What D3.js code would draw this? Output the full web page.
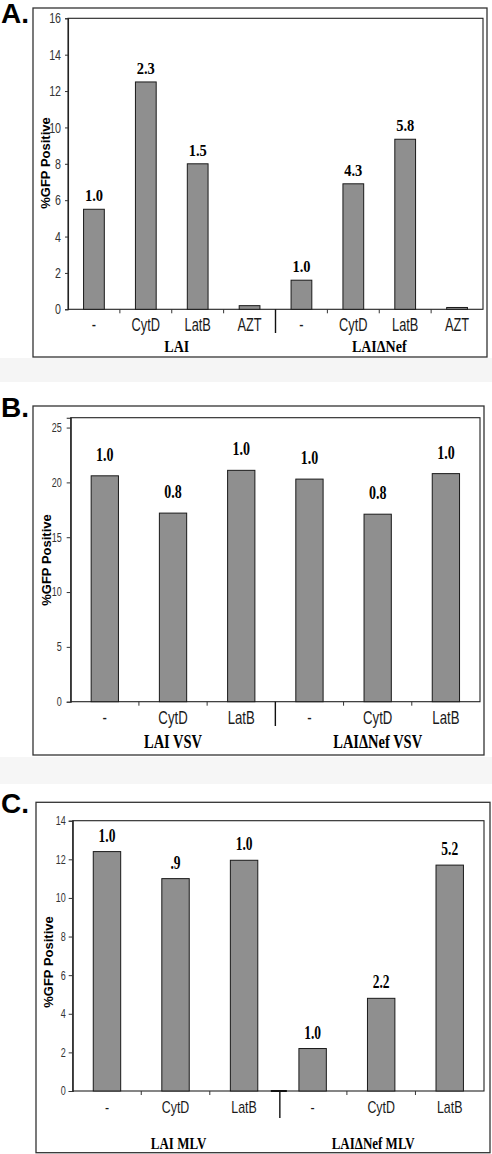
<!DOCTYPE html>
<html><head><meta charset="utf-8">
<script src="https://cdn.jsdelivr.net/npm/d3@7"></script>
<style>body{margin:0;background:#fff}svg{display:block}</style>
</head><body>
<script>
// ---- Data ----
const aCategories = ["-", "CytD", "LatB", "AZT", "-", "CytD", "LatB", "AZT"];
const aValues = [5.5, 12.5, 8.0, 0.2, 1.6, 6.9, 9.35, 0.1];
const aLabels = ["1.0", "2.3", "1.5", "", "1.0", "4.3", "5.8", ""];
const aGroups = ["LAI", "LAIΔNef"];
const aTicks = [0, 2, 4, 6, 8, 10, 12, 14, 16];

const bCategories = ["-", "CytD", "LatB", "-", "CytD", "LatB"];
const bValues = [20.6, 17.2, 21.1, 20.3, 17.1, 20.8];
const bLabels = ["1.0", "0.8", "1.0", "1.0", "0.8", "1.0"];
const bGroups = ["LAI VSV", "LAIΔNef VSV"];
const bTicks = [0, 5, 10, 15, 20, 25];

const cCategories = ["-", "CytD", "LatB", "-", "CytD", "LatB"];
const cValues = [12.4, 11.0, 11.95, 2.2, 4.8, 11.7];
const cLabels = ["1.0", ".9", "1.0", "1.0", "2.2", "5.2"];
const cGroups = ["LAI MLV", "LAIΔNef MLV"];
const cTicks = [0, 2, 4, 6, 8, 10, 12, 14];

const yTitle = "%GFP Positive";

// ---- Layout (styling, not data) ----
const W = 492, H = 1154;
const svg = d3.select("body").append("svg").attr("width", W).attr("height", H);

// faint background strips
svg.append("rect").attr("x", 0).attr("y", 358).attr("width", W).attr("height", 24).attr("fill", "#f5f5f5");
svg.append("rect").attr("x", 0).attr("y", 757).attr("width", W).attr("height", 27).attr("fill", "#f6f6f6");

function stext(g, x, y, txt, opts) {
  const t = g.append("text")
    .attr("transform", `translate(${x},${y}) scale(${opts.sx || 1},${opts.sy || 1})`)
    .attr("text-anchor", opts.anchor || "middle")
    .attr("font-family", opts.family)
    .attr("font-size", opts.size)
    .attr("font-weight", opts.weight || "normal")
    .attr("fill", opts.fill || "#000")
    .text(txt);
  if (opts.dy) t.attr("dy", opts.dy);
  return t;
}

const SERIF = "'Liberation Serif','Times New Roman',serif";
const SANS = "'Liberation Sans',Arial,sans-serif";

function drawPanel(cfg) {
  const g = svg.append("g");
  // panel letter
  stext(g, cfg.letterX, cfg.letterY, cfg.letter, {family: SANS, size: 28, weight: 900, anchor: "start"});
  // outer frame
  g.append("rect").attr("x", cfg.frame[0]).attr("y", cfg.frame[1])
    .attr("width", cfg.frame[2] - cfg.frame[0]).attr("height", cfg.frame[3] - cfg.frame[1])
    .attr("fill", "#fff").attr("stroke", "#333").attr("stroke-width", 1.3);

  const [L, T, R, B] = cfg.plot;
  const n = cfg.categories.length;
  const x = d3.scaleBand().domain(d3.range(n)).range([L, R]).paddingInner(0.6).paddingOuter(0.3);
  const step = x.step();
  const y = d3.scaleLinear().domain([0, cfg.yMax]).range([B, T]);

  // plot box
  g.append("rect").attr("x", L).attr("y", T).attr("width", R - L).attr("height", B - T)
    .attr("fill", "none").attr("stroke", "#222").attr("stroke-width", 1.1);

  // y axis
  const yAxis = d3.axisLeft(y).tickValues(cfg.ticks).tickSize(cfg.tickLen).tickPadding(cfg.tickPad).tickFormat(d3.format("d"));
  const ya = g.append("g").attr("transform", `translate(${L},0)`).call(yAxis);
  ya.select(".domain").attr("stroke", "#222").attr("stroke-width", 1.1);
  ya.selectAll(".tick line").attr("stroke", "#333");
  ya.selectAll(".tick text")
    .attr("x", null)
    .attr("transform", `translate(${-(cfg.tickLen + cfg.tickPad)},0) scale(0.82,1.1)`)
    .attr("font-family", SANS).attr("font-size", cfg.tickFont).attr("fill", "#333");

  // x tick marks at band boundaries
  const bounds = d3.range(1, n).filter(i => i !== cfg.split);
  g.selectAll(".xt").data(bounds).join("line")
    .attr("x1", i => L + i * step).attr("x2", i => L + i * step)
    .attr("y1", B).attr("y2", B + 4).attr("stroke", "#333").attr("stroke-width", 1);
  // group separator
  const sx = L + cfg.split * step + (cfg.sepShift || 0);
  g.append("line").attr("x1", sx).attr("x2", sx).attr("y1", B).attr("y2", cfg.sepBottom)
    .attr("stroke", "#111").attr("stroke-width", 1.4);
  if (cfg.baseMark) {
    g.append("line").attr("x1", sx - 9).attr("x2", sx + 7).attr("y1", B).attr("y2", B)
      .attr("stroke", "#111").attr("stroke-width", 2);
  }

  // bars
  g.selectAll(".bar").data(cfg.values).join("rect")
    .attr("x", (d, i) => x(i)).attr("width", x.bandwidth())
    .attr("y", d => y(d)).attr("height", d => B - y(d))
    .attr("fill", "#8f8f8f").attr("stroke", "#1a1a1a").attr("stroke-width", 1);

  // value labels
  cfg.labels.forEach((lab, i) => {
    if (!lab) return;
    stext(g, x(i) + x.bandwidth() / 2, y(cfg.values[i]) - cfg.labelDy, lab,
      {family: SERIF, size: cfg.valFont, weight: "bold", sy: cfg.serifSy});
  });

  // category labels
  cfg.categories.forEach((c, i) => {
    stext(g, x(i) + x.bandwidth() / 2, cfg.catY, c,
      {family: SANS, size: cfg.catFont, sx: 0.8, sy: 1.12, fill: "#1a1a1a"});
  });

  // group labels
  cfg.groups.forEach((gl, k) => {
    const i0 = k === 0 ? 0 : cfg.split;
    const i1 = k === 0 ? cfg.split : n;
    const cx = L + (i0 + i1) / 2 * step + (cfg.groupShift ? cfg.groupShift[k] : 0);
    stext(g, cx, cfg.groupY, gl, {family: SERIF, size: cfg.groupFont, weight: "bold", sy: cfg.serifSy});
  });

  // y title
  g.append("text")
    .attr("transform", `translate(${cfg.titleX},${cfg.titleY}) rotate(-90)`)
    .attr("text-anchor", "middle").attr("font-family", SANS).attr("font-size", 13)
    .attr("font-weight", "bold").attr("fill", "#000").text(yTitle);
}

drawPanel({
  letter: "A.", letterX: 1, letterY: 23,
  frame: [33, 8, 487, 357], plot: [68, 18.3, 483, 309.3], yMax: 16,
  categories: aCategories, values: aValues, labels: aLabels, groups: aGroups, ticks: aTicks,
  split: 4, tickFont: 13, tickLen: 3, tickPad: 4, catFont: 16, catY: 331, groupY: 352,
  sepBottom: 333, labelDy: 8, valFont: 14.5, groupFont: 14, serifSy: 1.2,
  titleX: 50, titleY: 163, groupShift: [5, 0]
});

drawPanel({
  letter: "B.", letterX: 1, letterY: 417,
  frame: [33, 406, 484, 755], plot: [70.7, 417.7, 480, 701.7], yMax: 25.9,
  categories: bCategories, values: bValues, labels: bLabels, groups: bGroups, ticks: bTicks,
  split: 3, tickFont: 11, tickLen: 4, tickPad: 5, catFont: 16.5, catY: 724, groupY: 748,
  sepBottom: 726, labelDy: 15, valFont: 14, groupFont: 14.5, serifSy: 1.3,
  titleX: 50.5, titleY: 560
});

drawPanel({
  letter: "C.", letterX: 1, letterY: 813,
  frame: [36, 802.3, 490, 1152.7], plot: [72.7, 820.7, 484, 1091], yMax: 14,
  categories: cCategories, values: cValues, labels: cLabels, groups: cGroups, ticks: cTicks,
  split: 3, tickFont: 11, tickLen: 4, tickPad: 3, catFont: 15.5, catY: 1113, groupY: 1149,
  sepBottom: 1118, labelDy: 10, valFont: 13.5, groupFont: 13, serifSy: 1.35,
  titleX: 52.5, titleY: 962, sepShift: 1.5, baseMark: true, groupShift: [3, -8]
});
</script>
</body></html>
